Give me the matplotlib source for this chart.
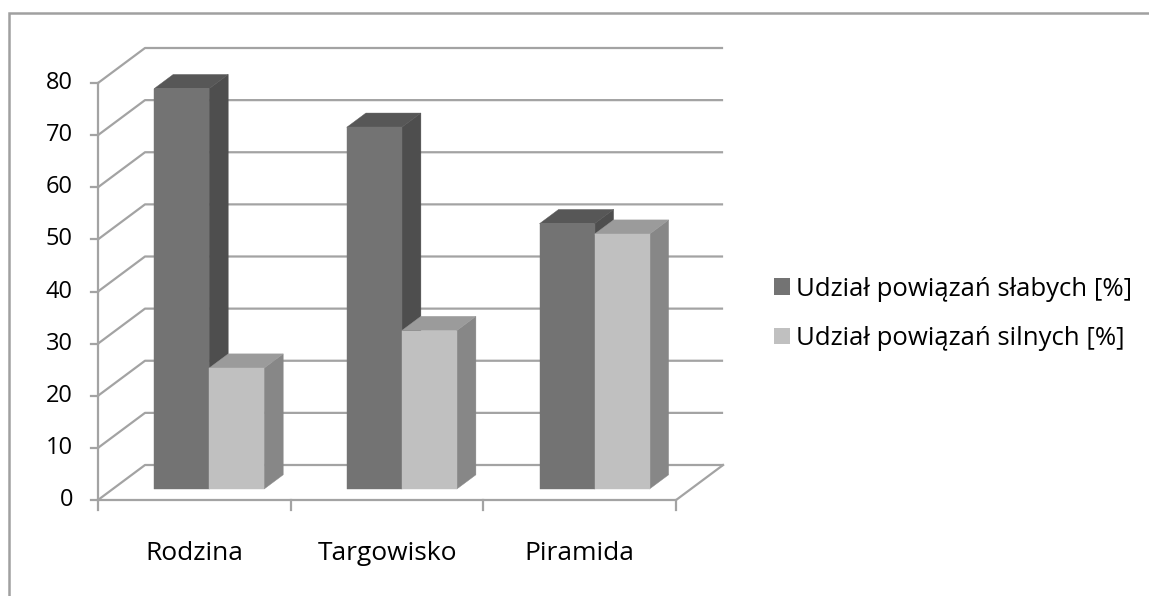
import matplotlib
matplotlib.use("Agg")
import matplotlib.pyplot as plt
from matplotlib.patches import Polygon, Rectangle, Patch

plt.rcParams['font.family'] = ['Open Sans', 'DejaVu Sans']

# data
categories = ["Rodzina", "Targowisko", "Piramida"]
weak = [76.8, 69.4, 50.9]     # Udział powiązań słabych [%]
strong = [23.2, 30.4, 48.9]   # Udział powiązań silnych [%]
series_names = ["Udział powiązań słabych [%]", "Udział powiązań silnych [%]"]
yticks = [0, 10, 20, 30, 40, 50, 60, 70, 80]

W, H = 1149, 596
# pixel layout of the pseudo-3d plot
X0, Y0 = 98, 500          # front-left-bottom corner
CAT_PX = 192.7            # width of one category
UNIT_PX = 5.2125          # pixels per value unit
DX_PX, DY_PX = 47, 35     # depth offset of back wall

fig = plt.figure(figsize=(W / 100, H / 100), dpi=100)
ax = fig.add_axes([0, 0, 1, 1])
ax.set_xlim(-X0 / CAT_PX, (W - X0) / CAT_PX)
ax.set_ylim(-(H - Y0) / UNIT_PX, Y0 / UNIT_PX)
ax.axis('off')

ddx = DX_PX / CAT_PX
ddy = DY_PX / UNIT_PX
ncat = len(categories)
ymax = yticks[-1]


def proj(x, v, d):
    return (x + d * ddx, v + d * ddy)


grid_c = '#a3a3a3'
glw = 1.6

# back wall gridlines + side wall diagonals
for v in yticks:
    pts = [proj(0, v, 0), proj(0, v, 1), proj(ncat, v, 1)]
    ax.plot([p[0] for p in pts], [p[1] for p in pts], color=grid_c, lw=glw,
            solid_capstyle='butt', zorder=1)
# floor edges
floor = [proj(0, 0, 0), proj(ncat, 0, 0), proj(ncat, 0, 1)]
ax.plot([p[0] for p in floor], [p[1] for p in floor], color=grid_c, lw=glw, zorder=1)
# left vertical axis
ax.plot([0, 0], [0, ymax], color=grid_c, lw=glw, zorder=1)

# ticks
tick_y = 7 / CAT_PX
for v in yticks:
    ax.plot([-tick_y, 0], [v, v], color=grid_c, lw=glw, zorder=1)
    ax.text(-25 / CAT_PX, v, str(v), ha='right', va='center', fontsize=17,
            color='#000000')
for i in range(ncat + 1):
    ax.plot([i, i], [0, -10 / UNIT_PX], color=grid_c, lw=glw, zorder=1)
for i, c in enumerate(categories):
    ax.text(i + 0.5, -53 / UNIT_PX, c, ha='center', va='center', fontsize=19,
            color='#000000')

# bars
d1, d2 = 0.314, 0.72
bw = 55 / CAT_PX
styles = [
    dict(front='#737373', side='#4e4e4e', top='#575757'),
    dict(front='#c0c0c0', side='#878787', top='#9b9b9b'),
]


def bar3d(x0, x1, v, st, z):
    front = [proj(x0, 0, d1), proj(x1, 0, d1), proj(x1, v, d1), proj(x0, v, d1)]
    side = [proj(x1, 0, d1), proj(x1, 0, d2), proj(x1, v, d2), proj(x1, v, d1)]
    top = [proj(x0, v, d1), proj(x1, v, d1), proj(x1, v, d2), proj(x0, v, d2)]
    for poly, col in ((side, st['side']), (top, st['top']), (front, st['front'])):
        ax.add_patch(Polygon(poly, closed=True, facecolor=col, edgecolor=col,
                             lw=0.3, zorder=z))


for i in range(ncat):
    c = i + 0.5
    bar3d(c - bw, c, weak[i], styles[0], 3 + i * 2)
    bar3d(c, c + bw, strong[i], styles[1], 4 + i * 2)

# legend
handles = [Patch(facecolor=styles[0]['front'], edgecolor='none'),
           Patch(facecolor=styles[1]['front'], edgecolor='none')]
fig.legend(handles, series_names, loc='center left',
           bbox_to_anchor=(751 / W, 1 - 314 / H), frameon=False, fontsize=18.5,
           handlelength=0.62, handleheight=0.62, handletextpad=0.25,
           labelspacing=0.95)

# chart border
fig.patches.append(Rectangle((9 / W, -0.05), 1.2, 1.05 - 13 / H,
                             transform=fig.transFigure, fill=False,
                             edgecolor='#a0a0a0', lw=1.8))

fig.savefig('out.png', dpi=100)
